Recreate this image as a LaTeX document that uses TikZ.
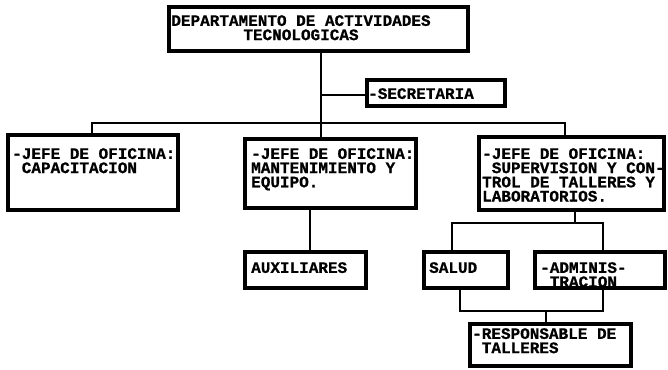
\documentclass[tikz,border=0pt]{standalone}
\usepackage{fontspec}
\newfontfamily\dmfont{Liberation Mono}[BoldFeatures={FakeBold=0.8}]
\lineskiplimit=-20pt
\begin{document}
\begin{tikzpicture}[x=1pt,y=-1pt,
  box/.style={draw=black,line width=3.8pt,rectangle,inner sep=0pt,outer sep=0pt},
  txt/.style={anchor=north west,align=left,inner sep=0pt,
    font=\dmfont\bfseries\fontsize{16}{14.2}\selectfont},
  conn/.style={draw=black,line width=1.7pt}]
\useasboundingbox (0,0) rectangle (668,369);
% boxes (outer extents minus line width)
\node[box,minimum width=299.2pt,minimum height=44.2pt] (top) at (318.5,29) {};
\node[box,minimum width=138.2pt,minimum height=26.2pt] (sec) at (436,93) {};
\node[box,minimum width=170.2pt,minimum height=75.2pt] (left) at (93,172.5) {};
\node[box,minimum width=171.2pt,minimum height=69.2pt] (mid) at (330.5,173.5) {};
\node[box,minimum width=185.2pt,minimum height=73.2pt] (right) at (571.5,173.5) {};
\node[box,minimum width=121.2pt,minimum height=36.2pt] (aux) at (305.5,270) {};
\node[box,minimum width=84.2pt,minimum height=36.2pt] (salud) at (466,270) {};
\node[box,minimum width=130.2pt,minimum height=36.2pt] (admin) at (600,270) {};
\node[box,minimum width=161.2pt,minimum height=42.2pt] (resp) at (550.5,345) {};
% texts
\node[txt,anchor=north,align=center] (ttop) at (301,15) {DEPARTAMENTO DE ACTIVIDADES\\TECNOLOGICAS};
\node[txt] (tsec) at (368,88) {-SECRETARIA};
\node[txt] (tleft) at (12,148) {-JEFE DE OFICINA:\\\hphantom{-}CAPACITACION};
\node[txt] (tmid) at (251,148) {-JEFE DE OFICINA:\\MANTENIMIENTO Y\\EQUIPO.};
\node[txt] (tright) at (482,148) {-JEFE DE OFICINA:\\\hphantom{-}SUPERVISION Y CON-\\TROL DE TALLERES Y\\LABORATORIOS.};
\node[txt] (taux) at (251,262) {AUXILIARES};
\node[txt] (tsalud) at (429,262) {SALUD};
\node[txt] (tadmin) at (540,262) {-ADMINIS-\\\hphantom{-}TRACION};
\node[txt] (tresp) at (472,328) {-RESPONSABLE DE\\\hphantom{-}TALLERES};
% connector coordinates
\coordinate (bus) at (321,123);
\coordinate (busL) at (92,123);
\coordinate (busR) at (565,123);
\coordinate (m1) at (310,0);
\coordinate (r1) at (575,223);
\coordinate (r2) at (452,223);
\coordinate (r3) at (603,223);
\coordinate (l1) at (460,311);
\coordinate (l2) at (603,311);
\coordinate (l3) at (546,311);
\coordinate (s1) at (321,95);
% connectors
\draw[conn] (top.south -| bus) -- (mid.north -| bus);
\draw[conn] (s1) -- (sec.west |- s1);
\draw[conn] (left.north -| busL) -- (busL) -- (busR) -- (right.north -| busR);
\draw[conn] (mid.south -| m1) -- (aux.north -| m1);
\draw[conn] (right.south -| r1) -- (r1);
\draw[conn] (salud.north -| r2) -- (r2) -- (r3) -- (admin.north -| r3);
\draw[conn] (salud.south -| l1) -- (l1) -- (l2) -- (admin.south -| l2);
\draw[conn] (l3) -- (resp.north -| l3);
\end{tikzpicture}
\end{document}
